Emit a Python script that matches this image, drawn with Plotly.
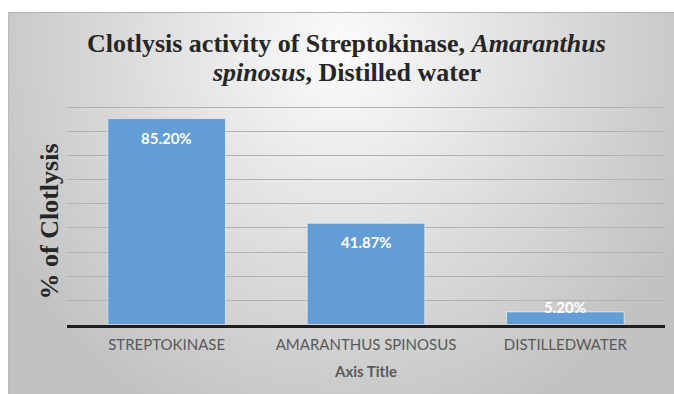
import base64
import struct
import zlib

import numpy as np
import plotly.graph_objects as go

# ---------------- data ----------------
categories = ["STREPTOKINASE", "AMARANTHUS SPINOSUS", "DISTILLED WATER"]
tick_labels = ["STREPTOKINASE", "AMARANTHUS SPINOSUS", "DISTILLEDWATER"]
clotlysis_pct = [85.20, 41.87, 5.20]
y_gridlines = [0, 10, 20, 30, 40, 50, 60, 70, 80, 90]
y_range = [0, 91.5]

title_line1 = "Clotlysis activity of Streptokinase, <i>Amaranthus</i>"
title_line2 = "<i>spinosus</i>, Distilled water"
y_title = "% of Clotlysis"
x_title = "Axis Title"

# ---------------- page geometry ----------------
W, H = 674, 394
BG_X0, BG_Y0 = 8, 12  # grey chart area starts here (white strip above / left)


def png_bytes(arr):
    h, w, _ = arr.shape
    raw = b"".join(b"\x00" + arr[i].tobytes() for i in range(h))

    def chunk(tag, data):
        c = struct.pack(">I", len(data)) + tag + data
        return c + struct.pack(">I", zlib.crc32(tag + data) & 0xFFFFFFFF)

    return (b"\x89PNG\r\n\x1a\n"
            + chunk(b"IHDR", struct.pack(">IIBBBBB", w, h, 8, 2, 0, 0, 0))
            + chunk(b"IDAT", zlib.compress(raw, 9))
            + chunk(b"IEND", b""))


# radial grey gradient background (light near the title, grey at the edges)
bw, bh = W - BG_X0, H - BG_Y0
yy, xx = np.mgrid[0:bh, 0:bw].astype(float)
cx, cy = 340 - BG_X0, 50 - BG_Y0
d = np.sqrt(((xx - cx) / 400.0) ** 2 + ((yy - cy) / 420.0) ** 2)
c = np.clip(252 - 60 * d, 194, 252)
img = np.stack([c, c, c], axis=-1).astype(np.uint8)
img[0, :, :] = 176
img[:, 0, :] = 188
bg_src = "data:image/png;base64," + base64.b64encode(png_bytes(img)).decode()

# plot area in pixels (value 90 sits at y=107, value 0 at y=324.5)
PX0, PX1 = 67, 665
PY_BOT = 324.5
PY_TOP = PY_BOT - (PY_BOT - 107) * y_range[1] / 90.0

fig = go.Figure()
fig.add_trace(go.Bar(
    x=categories,
    y=clotlysis_pct,
    marker=dict(color="#629dd6", line=dict(color="rgba(255,255,255,0.55)", width=1)),
    hoverinfo="skip",
))

annotations = []
for cat, v in zip(categories, clotlysis_pct):
    annotations.append(dict(
        x=cat, y=v, xref="x", yref="y",
        text=f"{v:.2f}%", showarrow=False,
        yshift=-19 if v > 10 else 5,
        font=dict(family="Lato", size=15, color="white", weight="bold"),
        xanchor="center", yanchor="middle",
    ))

serif = "Liberation Serif"
annotations += [
    dict(text="<b>" + title_line1 + "</b>", x=347 / W, y=1 - 43 / H, xref="paper", yref="paper",
         showarrow=False, xanchor="center", yanchor="middle",
         font=dict(family=serif, size=26, color="#262626")),
    dict(text="<b>" + title_line2 + "</b>", x=347 / W, y=1 - 72 / H, xref="paper", yref="paper",
         showarrow=False, xanchor="center", yanchor="middle",
         font=dict(family=serif, size=26, color="#262626")),
    dict(text="<b>" + y_title + "</b>", x=49 / W, y=1 - 221.5 / H, xref="paper", yref="paper",
         showarrow=False, xanchor="center", yanchor="middle", textangle=-90,
         font=dict(family=serif, size=26, color="#262626")),
    dict(text="<b>" + x_title + "</b>", x=365 / W, y=1 - 371 / H, xref="paper", yref="paper",
         showarrow=False, xanchor="center", yanchor="middle",
         font=dict(family="Lato", size=15, color="#595959")),
]

fig.update_layout(
    width=W, height=H,
    margin=dict(l=0, r=0, t=0, b=0),
    paper_bgcolor="white",
    plot_bgcolor="rgba(0,0,0,0)",
    showlegend=False,
    bargap=0.41,
    annotations=annotations,
    images=[dict(source=bg_src, xref="paper", yref="paper",
                 x=BG_X0 / W, y=1 - BG_Y0 / H, sizex=bw / W, sizey=bh / H,
                 xanchor="left", yanchor="top", sizing="stretch", layer="below")],
    xaxis=dict(
        domain=[PX0 / W, PX1 / W],
        tickmode="array", tickvals=categories, ticktext=tick_labels,
        tickfont=dict(family="Lato", size=15, color="#595959"),
        showline=True, linecolor="#1e1e1e", linewidth=2.5,
        ticks="outside", ticklen=5, tickcolor="rgba(0,0,0,0)",
        showgrid=False, fixedrange=True,
    ),
    yaxis=dict(
        domain=[1 - PY_BOT / H, 1 - PY_TOP / H],
        range=y_range, tickmode="array", tickvals=y_gridlines,
        showticklabels=False, ticks="",
        showgrid=True, gridcolor="#b2b2b2", gridwidth=1,
        zeroline=False, showline=False, fixedrange=True,
    ),
)

fig.write_html("out.html", config={"displayModeBar": False})
